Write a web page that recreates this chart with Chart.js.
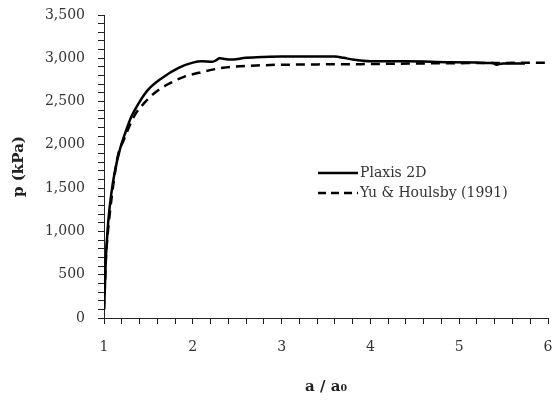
<!DOCTYPE html>
<html>
<head>
<meta charset="utf-8">
<script src="https://cdn.jsdelivr.net/npm/chart.js@4/dist/chart.umd.min.js"></script>
<style>
  html, body { margin: 0; padding: 0; background: #fff; }
  #wrap { width: 555px; height: 403px; }
</style>
</head>
<body>
<div id="wrap"><canvas id="cavityChart" width="555" height="403"></canvas></div>
<script>
// Plaxis 2D curve (a/a0 vs p in kPa)
const plaxisA = [1.00, 1.01, 1.02, 1.03, 1.05, 1.08, 1.12, 1.18, 1.24, 1.31, 1.39, 1.50, 1.65, 1.84, 2.00, 2.10, 2.22, 2.26, 2.30, 2.42, 2.60, 2.80, 3.00, 3.30, 3.60, 3.70, 3.80, 4.00, 4.40, 4.86, 5.20, 5.38, 5.42, 5.45, 5.50, 5.74];
const plaxisP = [100, 350, 670, 850, 1140, 1420, 1680, 1950, 2140, 2330, 2480, 2640, 2770, 2890, 2950, 2965, 2960, 2975, 3000, 2985, 3005, 3015, 3020, 3020, 3020, 3005, 2985, 2965, 2965, 2955, 2950, 2945, 2925, 2935, 2940, 2940];

// Yu & Houlsby (1991) analytical curve
const yuA = [1.00, 1.01, 1.02, 1.04, 1.07, 1.11, 1.16, 1.22, 1.28, 1.35, 1.46, 1.57, 1.72, 1.90, 2.10, 2.34, 2.80, 3.20, 3.73, 4.30, 4.86, 5.40, 6.00];
const yuP = [100, 380, 650, 950, 1250, 1580, 1890, 2050, 2200, 2350, 2490, 2600, 2700, 2785, 2840, 2890, 2920, 2928, 2931, 2937, 2943, 2946, 2950];

const seriesLabels = ['Plaxis 2D', 'Yu & Houlsby (1991)'];

const serif = "'DejaVu Serif', 'Liberation Serif', serif";

const toPoints = (xs, ys) => xs.map((x, i) => ({ x: x, y: ys[i] }));

// legend drawn inside the plot area, like the original figure
const insideLegend = {
  id: 'insideLegend',
  afterDraw(chart) {
    const ctx = chart.ctx;
    const rows = [{ y: 173, dash: [] }, { y: 193, dash: [8, 5] }];
    ctx.save();
    ctx.font = '14px ' + serif;
    ctx.textBaseline = 'middle';
    rows.forEach((row, i) => {
      ctx.strokeStyle = '#000';
      ctx.lineWidth = 2.5;
      ctx.setLineDash(row.dash);
      ctx.beginPath();
      ctx.moveTo(318, row.y);
      ctx.lineTo(358, row.y);
      ctx.stroke();
      ctx.setLineDash([]);
      ctx.fillStyle = '#333';
      ctx.fillText(seriesLabels[i], 360, row.y);
    });
    ctx.restore();
  }
};

const isWhole = (v, step) => Math.abs(v / step - Math.round(v / step)) < 1e-6;

new Chart(document.getElementById('cavityChart'), {
  type: 'line',
  data: {
    datasets: [
      {
        label: seriesLabels[0],
        data: toPoints(plaxisA, plaxisP),
        borderColor: '#000',
        borderWidth: 2.5,
        pointRadius: 0,
        cubicInterpolationMode: 'monotone',
        fill: false
      },
      {
        label: seriesLabels[1],
        data: toPoints(yuA, yuP),
        borderColor: '#000',
        borderWidth: 2.5,
        borderDash: [9, 6],
        pointRadius: 0,
        cubicInterpolationMode: 'monotone',
        fill: false
      }
    ]
  },
  options: {
    responsive: false,
    animation: false,
    layout: { padding: { top: 15, right: 7, left: 0, bottom: 0 } },
    plugins: {
      legend: { display: false },
      tooltip: { enabled: false }
    },
    scales: {
      x: {
        type: 'linear',
        min: 1,
        max: 6,
        afterFit: (s) => { s.height = 85; s.paddingLeft = 0; s.paddingRight = 0; },
        border: { color: '#222', width: 1 },
        grid: { drawOnChartArea: false, drawTicks: true, tickLength: 6, tickColor: '#222' },
        ticks: {
          stepSize: 0.2,
          autoSkip: false,
          maxRotation: 0,
          padding: 15,
          color: '#333',
          font: { family: serif, size: 14 },
          callback: (v) => isWhole(v, 1) ? String(Math.round(v)) : ''
        },
        title: {
          display: true,
          text: 'a / a\u2080',
          color: '#222',
          padding: { top: 0, bottom: 7 },
          font: { family: serif, size: 15, weight: 'bold' }
        }
      },
      y: {
        min: 0,
        max: 3500,
        afterFit: (s) => { s.width = 104; s.paddingTop = 0; s.paddingBottom = 0; },
        border: { color: '#222', width: 1 },
        grid: { drawOnChartArea: false, drawTicks: true, tickLength: 6, tickColor: '#222' },
        ticks: {
          stepSize: 100,
          autoSkip: false,
          padding: 13,
          color: '#333',
          font: { family: serif, size: 14 },
          callback: (v) => isWhole(v, 500) ? Math.round(v).toLocaleString('en-US') : ''
        },
        title: {
          display: true,
          text: 'p (kPa)',
          color: '#222',
          padding: { top: 10, bottom: 0 },
          font: { family: serif, size: 15, weight: 'bold' }
        }
      }
    }
  },
  plugins: [insideLegend]
});
</script>
</body>
</html>
